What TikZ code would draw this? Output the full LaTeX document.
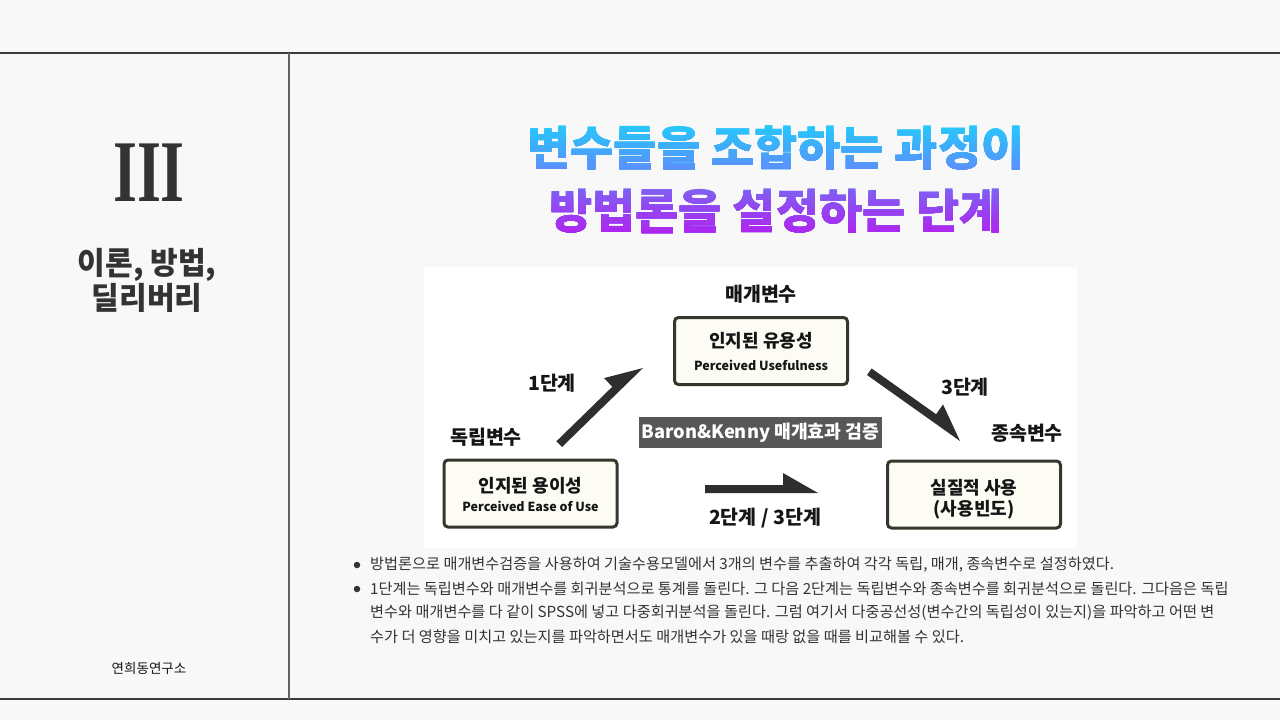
\documentclass[tikz,border=0pt]{standalone}
\usepackage{fontspec}
\setmainfont{Noto Sans CJK KR}
\newfontfamily\kr{Noto Sans CJK KR}
\newfontfamily\romanIII{Liberation Serif}
\usetikzlibrary{calc}
\definecolor{bg}{HTML}{F8F8F8}
\definecolor{rulecol}{HTML}{3C3C3C}
\definecolor{boxline}{HTML}{35372D}
\definecolor{boxfill}{HTML}{FCFBF4}
\definecolor{arrowfill}{HTML}{2E2E2E}
\definecolor{darktext}{HTML}{333333}
\definecolor{lblcol}{HTML}{151515}
\definecolor{bkfill}{HTML}{575757}
\definecolor{tAt}{HTML}{25C8FB}
\definecolor{tAb}{HTML}{5B8FFB}
\definecolor{tBt}{HTML}{7E60F2}
\definecolor{tBb}{HTML}{B024F0}
\tikzset{
  boxstyle/.style={draw=boxline, fill=boxfill, line width=3pt, rounded corners=4pt,
    minimum width=173pt, minimum height=67pt, inner sep=0pt},
  lbl/.style={font=\bfseries\fontsize{19.5}{21}\selectfont, text=lblcol, inner sep=0pt},
  boxkr/.style={font=\bfseries\fontsize{18}{20}\selectfont, text=lblcol, inner sep=0pt},
  boxen/.style={font=\bfseries\fontsize{12.5}{14}\selectfont, text=lblcol, inner sep=0pt},
  bodytext/.style={font=\fontsize{15.2}{17}\selectfont, text=darktext, inner sep=0pt, anchor=west},
  titlefont/.style={font=\bfseries\fontsize{47}{50}\selectfont, inner sep=0pt},
  dot/.style={circle, fill=darktext, inner sep=0pt, minimum size=6.5pt}
}
\newcommand\halfarrow[2]{%
  \fill[arrowfill] (#1) -- (#2)
    -- ($(#2)!35pt!(#1)!20pt!-90:(#1)$)
    -- ($(#2)!35pt!(#1)!8pt!-90:(#1)$)
    -- ($(#1)!8pt!90:(#2)$) -- cycle;}
\begin{document}
\begin{tikzpicture}[x=1pt,y=-1pt]
\useasboundingbox (0,0) rectangle (1280,720);
\fill[bg] (0,0) rectangle (1280,720);
% frame rules
\draw[rulecol, line width=1.4pt] (0,53) -- (1280,53);
\draw[rulecol, line width=1.4pt] (0,699) -- (1280,699);
\draw[rulecol!80, line width=1.4pt] (289,53) -- (289,699);

% left panel
\node[text=darktext, inner sep=0pt, xscale=0.7] (roman) at (149,173)
  {\romanIII\bfseries\fontsize{88}{90}\selectfont III};
\node[text=darktext, inner sep=0pt, align=center, xscale=0.97, font=\bfseries\fontsize{31}{35}\selectfont] (sect) at (147,280)
  {이론, 방법,\\딜리버리};
\node[text=lblcol, inner sep=0pt, font=\fontsize{13.5}{15}\selectfont] (lab) at (149,668) {연희동연구소};

% title with vertical gradient
\foreach \i in {0,...,11}{
  \pgfmathsetmacro\yy{\i==0 ? 0 : 123+\i*49/12}
  \pgfmathtruncatemacro\pc{100*\i/11}
  \begin{scope}
    \clip (300,\yy) rectangle (1280,182);
    \node[titlefont, text=tAb!\pc!tAt] (tA\i) at (776,148) {변수들을 조합하는 과정이};
  \end{scope}
}
\foreach \i in {0,...,11}{
  \pgfmathsetmacro\yy{\i==0 ? 182 : 187+\i*48/12}
  \pgfmathtruncatemacro\pc{100*\i/11}
  \begin{scope}
    \clip (300,\yy) rectangle (1280,260);
    \node[titlefont, text=tBb!\pc!tBt] (tB\i) at (776,211) {방법론을 설정하는 단계};
  \end{scope}
}

% diagram panel
\fill[white] (424,267) rectangle (1077,548);

\node[boxstyle] (med) at (761,351) {};
\node[boxkr] (medk) at (761,341) {인지된 유용성};
\node[boxen] (mede) at (761,365) {Perceived Usefulness};

\node[boxstyle] (ind) at (530.5,493.5) {};
\node[boxkr] (indk) at (530.5,486) {인지된 용이성};
\node[boxen] (inde) at (530.5,506) {Perceived Ease of Use};

\node[boxstyle] (dep) at (974,494.5) {};
\node[boxkr] (depk) at (974,488) {실질적 사용};
\node[boxkr] (depe) at (974,510) {(사용빈도)};

\node[lbl] (lmed) at (761,294) {매개변수};
\node[lbl] (lind) at (486,437) {독립변수};
\node[lbl] (ldep) at (1027,433) {종속변수};
\node[lbl] (s1) at (552,383) {1단계};
\node[lbl] (s3) at (965,387) {3단계};
\node[lbl] (s23) at (765,518) {2단계 / 3단계};

\node[fill=bkfill, text=white, inner sep=0pt, minimum width=243pt, minimum height=31pt,
  font=\bfseries\fontsize{18.3}{20}\selectfont] (bk) at (760.5,432.5) {Baron\&Kenny 매개효과 검증};

% arrows
\coordinate (a1s) at (562,447); \coordinate (a1e) at (643,368);
\coordinate (a2s) at (705,493); \coordinate (a2e) at (818,493);
\coordinate (a3s) at (867,375); \coordinate (a3e) at (960,441);
\halfarrow{a1s}{a1e}
\halfarrow{a2s}{a2e}
\halfarrow{a3s}{a3e}

% bullets
\node[dot] (d1) at (357,565) {};
\node[dot] (d2) at (357,589) {};
\node[bodytext] (p1) at (370,565) {방법론으로 매개변수검증을 사용하여 기술수용모델에서 3개의 변수를 추출하여 각각 독립, 매개, 종속변수로 설정하였다.};
\node[bodytext] (p2) at (370,589) {1단계는 독립변수와 매개변수를 회귀분석으로 통계를 돌린다. 그 다음 2단계는 독립변수와 종속변수를 회귀분석으로 돌린다. 그다음은 독립};
\node[bodytext] (p3) at (370,613) {변수와 매개변수를 다 같이 SPSS에 넣고 다중회귀분석을 돌린다. 그럼 여기서 다중공선성(변수간의 독립성이 있는지)을 파악하고 어떤 변};
\node[bodytext] (p4) at (370,637) {수가 더 영향을 미치고 있는지를 파악하면서도 매개변수가 있을 때랑 없을 때를 비교해볼 수 있다.};
\end{tikzpicture}
\end{document}
